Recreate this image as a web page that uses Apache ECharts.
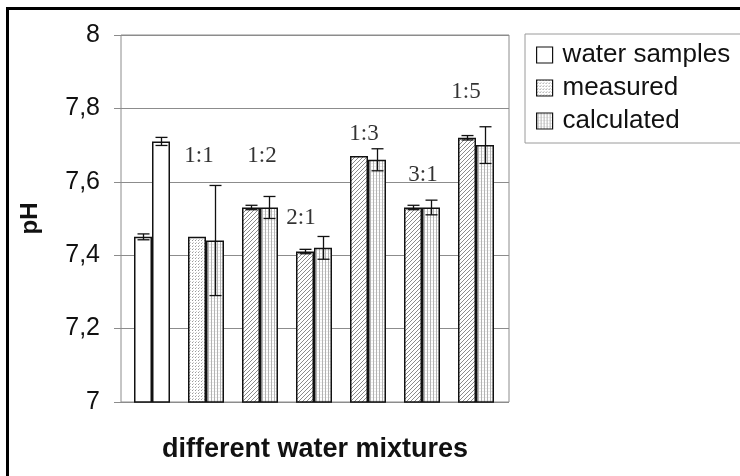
<!DOCTYPE html>
<html><head><meta charset="utf-8">
<script src="https://cdn.jsdelivr.net/npm/echarts@6/dist/echarts.min.js"></script>
<style>html,body{margin:0;padding:0;background:#fff}#c{width:740px;height:476px}</style>
</head><body><div id="c"></div><script>
// ---- data ----
const groups = ['water samples', '1:1', '1:2', '2:1', '1:3', '3:1', '1:5'];
const waterSamples = [7.45, 7.71];
const waterErr = [0.008, 0.011];
const measured = [7.45, 7.53, 7.41, 7.67, 7.53, 7.72];      // groups 1:1 .. 1:5
const measuredErr = [0, 0.006, 0.006, 0, 0.006, 0.006];
const calculated = [7.44, 7.53, 7.42, 7.66, 7.53, 7.70];
const calculatedErr = [0.15, 0.03, 0.031, 0.03, 0.02, 0.05];
const yTickLabels = ['7', '7,2', '7,4', '7,6', '7,8', '8'];

// ---- styling helpers ----
const BAR_W = 18, CAP = 12;
function pattern(kind) {
  const c = document.createElement('canvas');
  const ctx = c.getContext('2d');
  if (kind === 'hatch') {
    c.width = 4; c.height = 4;
    ctx.fillStyle = '#fff'; ctx.fillRect(0, 0, 4, 4);
    ctx.strokeStyle = '#8a8a8a'; ctx.lineWidth = 1;
    ctx.beginPath();
    ctx.moveTo(0, 4); ctx.lineTo(4, 0);
    ctx.moveTo(-1, 1); ctx.lineTo(1, -1);
    ctx.moveTo(3, 5); ctx.lineTo(5, 3);
    ctx.stroke();
  } else if (kind === 'dots') {
    c.width = 3; c.height = 3;
    ctx.fillStyle = '#fff'; ctx.fillRect(0, 0, 3, 3);
    ctx.fillStyle = '#9a9a9a'; ctx.fillRect(0, 0, 1, 1);
    ctx.fillStyle = '#c8c8c8'; ctx.fillRect(1, 2, 1, 1);
  } else {
    c.width = 3; c.height = 3;
    ctx.fillStyle = '#fff'; ctx.fillRect(0, 0, 3, 3);
    ctx.fillStyle = '#ececec'; ctx.fillRect(0, 1, 3, 1);
    ctx.fillStyle = '#b4b4b4'; ctx.fillRect(1, 0, 1, 3);
  }
  return { image: c, repeat: 'repeat' };
}
const hatch = pattern('hatch'), dots = pattern('dots'), vlines = pattern('v');
const border = { borderColor: '#111', borderWidth: 1.5 };
const whiteStyle = Object.assign({ color: '#fff' }, border);

// ---- build series data ----
const measuredData = [{ value: waterSamples[0], itemStyle: whiteStyle }].concat(
  measured.map((v, i) => i === 0 ? { value: v, itemStyle: Object.assign({ color: dots }, border) } : v));
const calculatedData = [{ value: waterSamples[1], itemStyle: whiteStyle }].concat(calculated);

const errData = [];
errData.push([0, waterSamples[0], waterErr[0], -1]);
errData.push([0, waterSamples[1], waterErr[1], 1]);
measured.forEach((v, i) => errData.push([i + 1, v, measuredErr[i], -1]));
calculated.forEach((v, i) => errData.push([i + 1, v, calculatedErr[i], 1]));

// annotation placement (pixel offset from group centre, y in pH units)
const annot = [[-7, 7.67], [2, 7.67], [-13, 7.501], [-4, 7.73], [1, 7.619], [-10, 7.845]];
const annotData = groups.slice(1).map((g, i) => ({
  name: g, value: [i + 1, annot[i][1]], label: { offset: [annot[i][0], 0] }
}));

const chart = echarts.init(document.getElementById('c'), null, { renderer: 'canvas' });
const gridTop = 35, gridH = 367;
chart.setOption({
  animation: false,
  backgroundColor: '#fff',
  textStyle: { fontFamily: 'Liberation Sans, Arial, sans-serif' },
  graphic: [
    { type: 'line', shape: { x1: 6, y1: 8.5, x2: 740, y2: 8.5 }, style: { stroke: '#000', lineWidth: 3 } },
    { type: 'line', shape: { x1: 7.5, y1: 7, x2: 7.5, y2: 476 }, style: { stroke: '#000', lineWidth: 3 } }
  ],
  grid: [
    { left: 121, top: gridTop, width: 388, height: gridH, show: true, borderColor: '#8c8c8c', borderWidth: 1 },
    { left: 125, top: gridTop, width: 378, height: gridH }
  ],
  xAxis: [
    { gridIndex: 0, type: 'category', data: groups, axisLine: { show: false }, axisTick: { show: false },
      axisLabel: { show: false },
      name: 'different water mixtures', nameLocation: 'middle', nameGap: 34,
      nameTextStyle: { fontSize: 27, fontWeight: 'bold', color: '#111' } },
    { gridIndex: 1, type: 'category', data: groups, show: false }
  ],
  yAxis: [
    { gridIndex: 0, type: 'value', min: 7, max: 8, interval: 0.2,
      axisLine: { show: false },
      axisTick: { show: true, length: 7, lineStyle: { color: '#8c8c8c' } },
      splitLine: { lineStyle: { color: '#8c8c8c', width: 1 } },
      axisLabel: { fontSize: 25, color: '#111', margin: 21,
        formatter: v => yTickLabels[Math.round((v - 7) / 0.2)] },
      name: 'pH', nameLocation: 'middle', nameGap: 79, nameRotate: 90,
      nameTextStyle: { fontSize: 24, fontWeight: 'bold', color: '#111' } },
    { gridIndex: 1, type: 'value', min: 7, max: 8, show: false }
  ],
  legend: {
    orient: 'vertical', left: 525, top: 34,
    padding: [8, 20, 9, 11],
    borderColor: '#9a9a9a', borderWidth: 1,
    itemWidth: 16, itemHeight: 16, itemGap: 7,
    textStyle: { fontSize: 26, color: '#111', lineHeight: 26, padding: [0, 0, 0, 5] },
    itemStyle: { borderColor: '#111', borderWidth: 1.2 },
    data: [
      { name: 'water samples', icon: 'rect' },
      { name: 'measured', icon: 'rect', itemStyle: { color: dots } },
      { name: 'calculated', icon: 'rect' }
    ]
  },
  series: [
    { name: 'water samples', type: 'bar', xAxisIndex: 0, yAxisIndex: 0, data: [],
      itemStyle: whiteStyle },
    { name: 'measured', type: 'bar', xAxisIndex: 1, yAxisIndex: 1, barWidth: BAR_W, barGap: '0%',
      itemStyle: Object.assign({ color: hatch }, border), data: measuredData },
    { name: 'calculated', type: 'bar', xAxisIndex: 1, yAxisIndex: 1, barWidth: BAR_W, barGap: '0%',
      itemStyle: Object.assign({ color: vlines }, border), data: calculatedData },
    { name: 'err', type: 'custom', xAxisIndex: 1, yAxisIndex: 1, z: 5, data: errData,
      encode: { x: 0, y: 1 },
      renderItem: function (params, api) {
        const idx = api.value(0), v = api.value(1), e = api.value(2), side = api.value(3);
        if (!e) return null;
        const c = api.coord([idx, v]);
        const x = Math.round(c[0] + side * BAR_W / 2) + 0.5;
        const yt = api.coord([idx, v + e])[1], yb = api.coord([idx, v - e])[1];
        const h = CAP / 2, st = { stroke: '#111', lineWidth: 1.3 };
        return { type: 'group', children: [
          { type: 'line', shape: { x1: x, y1: yt, x2: x, y2: yb }, style: st },
          { type: 'line', shape: { x1: x - h, y1: yt, x2: x + h, y2: yt }, style: st },
          { type: 'line', shape: { x1: x - h, y1: yb, x2: x + h, y2: yb }, style: st }
        ] };
      } },
    { name: 'labels', type: 'scatter', xAxisIndex: 1, yAxisIndex: 1, symbolSize: 0, z: 6,
      data: annotData, silent: true,
      label: { show: true, position: 'inside', formatter: p => p.name,
        fontFamily: 'Liberation Serif, Times New Roman, serif', fontSize: 23, color: '#000' } }
  ]
});
</script></body></html>
